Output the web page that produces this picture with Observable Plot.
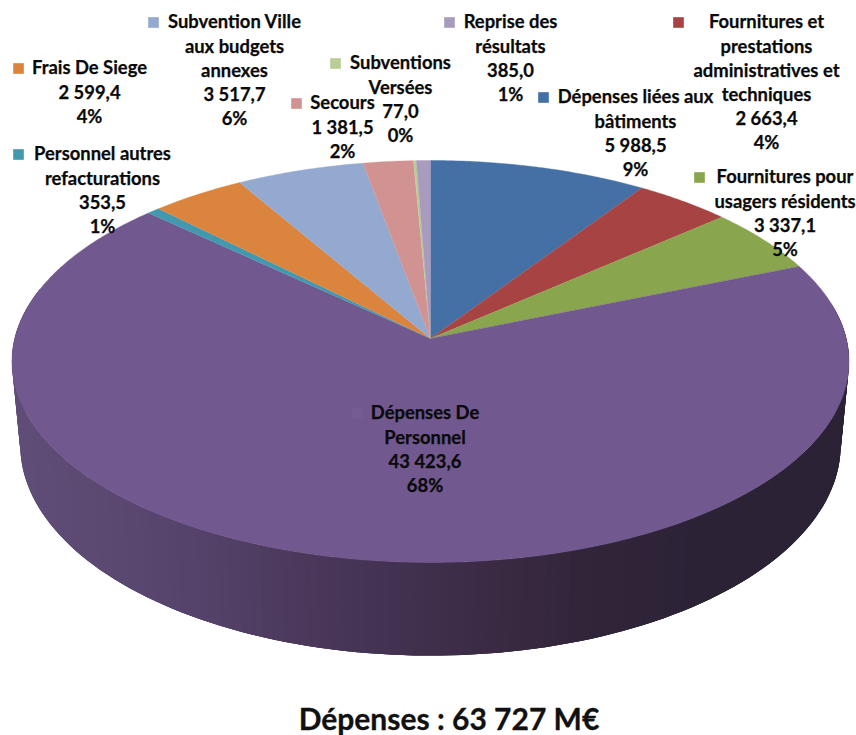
<!DOCTYPE html>
<html>
<head>
<meta charset="utf-8">
<script src="https://cdn.jsdelivr.net/npm/d3@7"></script>
<script src="https://cdn.jsdelivr.net/npm/@observablehq/plot@0.6"></script>
<style>
html,body{margin:0;padding:0;background:#fff}
#chart svg{display:block}
#title{width:856px;height:45px;margin-left:21px;text-align:center;font:700 30px/56px Lato,sans-serif;color:#111;box-sizing:border-box;-webkit-text-stroke:0.3px #111}
</style>
</head>
<body>
<div id="chart"></div>
<div id="title">Dépenses : 63 727 M€</div>
<script>
// Values, clockwise from the top of the pie
const categories = [
  "Dépenses liées aux bâtiments",
  "Fournitures et prestations administratives et techniques",
  "Fournitures pour usagers résidents",
  "Dépenses De Personnel",
  "Personnel autres refacturations",
  "Frais De Siege",
  "Subvention Ville aux budgets annexes",
  "Secours",
  "Subventions Versées",
  "Reprise des résultats"
];
const values = [5988.5, 2663.4, 3337.1, 43423.6, 353.5, 2599.4, 3517.7, 1381.5, 77.0, 385.0];
const colors = ["#4470a5", "#a74443", "#89a54e", "#71588f", "#4198af", "#db843d", "#93a9cf", "#d19392", "#b9cd96", "#a99bbd"];

// Wrapped label names
const nameLines = [
  ["Dépenses liées aux", "bâtiments"],
  ["Fournitures et", "prestations", "administratives et", "techniques"],
  ["Fournitures pour", "usagers résidents"],
  ["Dépenses De", "Personnel"],
  ["Personnel autres", "refacturations"],
  ["Frais De Siege"],
  ["Subvention Ville", "aux budgets", "annexes"],
  ["Secours"],
  ["Subventions", "Versées"],
  ["Reprise des", "résultats"]
];
// Label layout: text centre x, first line y, swatch x
const labelX  = [635, 766, 784.5, 424.5, 102, 89, 234, 342, 400, 510];
const labelY  = [97, 22, 177, 413, 154, 68, 22, 103, 63, 22];
const swatchX = [543, 678, 699, 357, 18, 18, 153, 296, 335, 449];
const lineStep = 24.2;

// Pie perspective geometry
const APEX = {x: 430, y: 338}, PX = 415.8, PC = 0.1144, PA = -159.7;
const DEPTH = 82.4, SHRINK = 0.98;
const rimTop = t => {
  const u = Math.sin(t), v = Math.cos(t), den = 1 + PC * v;
  return {x: APEX.x + PX * u / den, y: (PA * v + APEX.y) / den};
};
const rimBottom = t => {
  const u = Math.sin(t), v = Math.cos(t), den = 1 + PC * v;
  return {x: APEX.x + SHRINK * PX * u / den, y: (PA * v + APEX.y + DEPTH) / den};
};

const total = d3.sum(values);
const deg = Math.PI / 180;

// Top-face polygons built from the values
let cum = 0;
const faceRows = [];
values.forEach((val, i) => {
  const a0 = cum / total * 2 * Math.PI;
  cum += val;
  const a1 = cum / total * 2 * Math.PI;
  const id = "s" + i;
  faceRows.push({id, color: colors[i], ...APEX});
  const n = Math.max(2, Math.ceil((a1 - a0) / (0.5 * deg)));
  for (let k = 0; k <= n; k++) {
    faceRows.push({id, color: colors[i], ...rimTop(a0 + (a1 - a0) * k / n)});
  }
});

// Side wall, shaded from left to right; strips overlap so no seams show
const wallShade = d3.scaleLinear()
  .domain([20, 100, 200, 300, 400, 500, 600, 700, 850])
  .range(["#604d77", "#5c4972", "#55426a", "#4b385b", "#433150", "#3a2a43", "#302439", "#2c2236", "#2c2236"])
  .interpolate(d3.interpolateRgb);
const wallRows = [];
const step = 1.5, wallEnd = 285;
for (let a = 80, i = 0; a < wallEnd; a += step, i++) {
  const t0 = a * deg, t1 = Math.min(a + step * 3, wallEnd) * deg;
  const color = d3.color(wallShade(rimTop(t0 + step * deg / 2).x)).formatHex();
  const id = "w" + i;
  const n = 3;
  for (let k = 0; k <= n; k++) wallRows.push({id, color, ...rimTop(t0 + (t1 - t0) * k / n)});
  for (let k = n; k >= 0; k--) wallRows.push({id, color, ...rimBottom(t0 + (t1 - t0) * k / n)});
}

// Labels
const fr = d3.formatLocale({decimal: ",", thousands: " ", grouping: [3], currency: ["", ""]});
const fmtValue = fr.format(",.1f");
const textRows = [];
categories.forEach((c, i) => {
  const lines = [...nameLines[i], fmtValue(values[i]), Math.round(values[i] / total * 100) + "%"];
  lines.forEach((text, k) => textRows.push({text, x: labelX[i], y: labelY[i] + k * lineStep}));
});
const swatches = categories.map((c, i) => ({x: swatchX[i], y: labelY[i], color: i === 3 ? "#755d93" : colors[i]}));

const plot = Plot.plot({
  width: 856,
  height: 690,
  margin: 0,
  x: {domain: [0, 856], axis: null},
  y: {domain: [690, 0], axis: null},
  color: {type: "identity"},
  marks: [
    Plot.line(wallRows, {x: "x", y: "y", z: "id", fill: "color"}),
    Plot.line(faceRows, {x: "x", y: "y", z: "id", fill: "color", stroke: "color", strokeWidth: 0.4}),
    Plot.dot(swatches, {x: "x", y: "y", symbol: "square", r: 6, fill: "color"}),
    Plot.text(textRows, {x: "x", y: "y", text: "text", fontFamily: "Lato", fontWeight: 700, fontSize: 18.4, fill: "#0a0a0a", stroke: "#0a0a0a", strokeWidth: 0.25, textAnchor: "middle"})
  ]
});
document.getElementById("chart").appendChild(plot);
</script>
</body>
</html>
